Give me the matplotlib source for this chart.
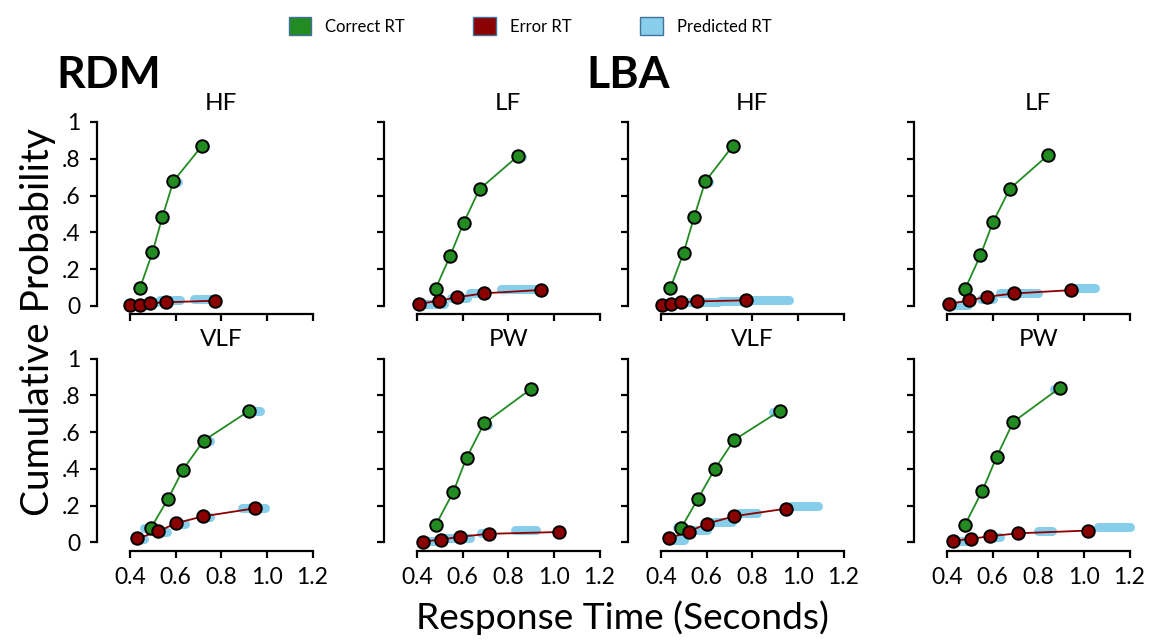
import matplotlib
matplotlib.use('Agg')
import matplotlib.pyplot as plt
from matplotlib.patches import Patch

plt.rcParams['font.family'] = ['Lato', 'DejaVu Sans']

# ============================================================
# Data (quantile RTs in seconds, cumulative probability)
# predicted clouds: (rt_lo, rt_hi, p)
# ============================================================

# RDM HF
rdm_hf_cor_rt = [0.444, 0.498, 0.542, 0.590, 0.714]
rdm_hf_cor_p = [0.099, 0.291, 0.485, 0.678, 0.868]
rdm_hf_err_rt = [0.400, 0.444, 0.486, 0.556, 0.773]
rdm_hf_err_p = [0.003, 0.006, 0.015, 0.020, 0.029]
rdm_hf_pred = [(0.71, 0.73, 0.865), (0.59, 0.61, 0.672), (0.54, 0.55, 0.482),
               (0.50, 0.51, 0.290), (0.41, 0.43, 0.010), (0.49, 0.52, 0.020),
               (0.53, 0.62, 0.032), (0.68, 0.76, 0.040)]

# RDM LF
rdm_lf_cor_rt = [0.481, 0.545, 0.604, 0.674, 0.844]
rdm_lf_cor_p = [0.093, 0.272, 0.452, 0.635, 0.817]
rdm_lf_err_rt = [0.407, 0.497, 0.573, 0.694, 0.942]
rdm_lf_err_p = [0.011, 0.029, 0.047, 0.069, 0.087]
rdm_lf_pred = [(0.84, 0.86, 0.812), (0.67, 0.69, 0.630), (0.47, 0.48, 0.095),
               (0.42, 0.52, 0.012), (0.55, 0.62, 0.045), (0.63, 0.70, 0.070),
               (0.77, 0.92, 0.092)]

# LBA HF
lba_hf_cor_rt = [0.441, 0.499, 0.545, 0.594, 0.715]
lba_hf_cor_p = [0.098, 0.290, 0.484, 0.677, 0.871]
lba_hf_err_rt = [0.403, 0.444, 0.488, 0.559, 0.772]
lba_hf_err_p = [0.005, 0.012, 0.020, 0.025, 0.031]
lba_hf_pred = [(0.71, 0.72, 0.868), (0.59, 0.61, 0.672), (0.50, 0.65, 0.020),
               (0.66, 0.76, 0.028), (0.78, 0.96, 0.035)]

# LBA LF
lba_lf_cor_rt = [0.479, 0.546, 0.601, 0.675, 0.841]
lba_lf_cor_p = [0.092, 0.275, 0.454, 0.637, 0.818]
lba_lf_err_rt = [0.409, 0.498, 0.574, 0.693, 0.942]
lba_lf_err_p = [0.011, 0.031, 0.050, 0.068, 0.086]
lba_lf_pred = [(0.83, 0.85, 0.808), (0.67, 0.68, 0.628), (0.47, 0.48, 0.095),
               (0.43, 0.49, 0.008), (0.55, 0.60, 0.040), (0.63, 0.80, 0.068),
               (0.94, 1.05, 0.097), (1.09, 1.09, 0.097)]

# RDM VLF
rdm_vlf_cor_rt = [0.491, 0.567, 0.632, 0.723, 0.923]
rdm_vlf_cor_p = [0.078, 0.238, 0.396, 0.554, 0.716]
rdm_vlf_err_rt = [0.432, 0.523, 0.602, 0.720, 0.948]
rdm_vlf_err_p = [0.022, 0.060, 0.105, 0.142, 0.186]
rdm_vlf_pred = [(0.46, 0.48, 0.078), (0.44, 0.46, 0.018), (0.53, 0.56, 0.055),
                (0.61, 0.64, 0.100), (0.71, 0.75, 0.140), (0.89, 0.99, 0.186),
                (0.91, 0.97, 0.714), (0.72, 0.75, 0.553)]

# RDM PW
rdm_pw_cor_rt = [0.481, 0.559, 0.617, 0.694, 0.899]
rdm_pw_cor_p = [0.093, 0.275, 0.461, 0.647, 0.834]
rdm_pw_err_rt = [0.426, 0.506, 0.587, 0.714, 1.022]
rdm_pw_err_p = [0.005, 0.016, 0.031, 0.047, 0.057]
rdm_pw_pred = [(0.42, 0.48, 0.008), (0.51, 0.63, 0.027), (0.68, 0.73, 0.052),
               (0.70, 0.71, 0.640), (0.89, 0.90, 0.834), (0.83, 0.92, 0.070)]

# LBA VLF
lba_vlf_cor_rt = [0.489, 0.562, 0.635, 0.721, 0.923]
lba_vlf_cor_p = [0.081, 0.238, 0.398, 0.558, 0.717]
lba_vlf_err_rt = [0.434, 0.521, 0.601, 0.721, 0.949]
lba_vlf_err_p = [0.022, 0.059, 0.102, 0.143, 0.184]
lba_vlf_pred = [(0.44, 0.50, 0.015), (0.47, 0.49, 0.085), (0.55, 0.60, 0.068),
                (0.63, 0.71, 0.110), (0.74, 0.82, 0.158), (0.97, 1.09, 0.200),
                (1.10, 1.10, 0.198), (0.89, 0.92, 0.708), (0.71, 0.72, 0.545),
                (0.63, 0.63, 0.390)]

# LBA PW
lba_pw_cor_rt = [0.478, 0.555, 0.618, 0.690, 0.894]
lba_pw_cor_p = [0.095, 0.282, 0.467, 0.655, 0.840]
lba_pw_err_rt = [0.428, 0.505, 0.587, 0.712, 1.019]
lba_pw_err_p = [0.009, 0.020, 0.034, 0.050, 0.065]
lba_pw_pred = [(0.43, 0.49, 0.008), (0.52, 0.52, 0.010), (0.61, 0.63, 0.030),
               (0.80, 0.86, 0.065), (1.06, 1.20, 0.085), (0.87, 0.89, 0.835),
               (0.685, 0.685, 0.645)]

panel_titles = ['HF', 'LF', 'HF', 'LF', 'VLF', 'PW', 'VLF', 'PW']
panels = [
    (rdm_hf_cor_rt, rdm_hf_cor_p, rdm_hf_err_rt, rdm_hf_err_p, rdm_hf_pred),
    (rdm_lf_cor_rt, rdm_lf_cor_p, rdm_lf_err_rt, rdm_lf_err_p, rdm_lf_pred),
    (lba_hf_cor_rt, lba_hf_cor_p, lba_hf_err_rt, lba_hf_err_p, lba_hf_pred),
    (lba_lf_cor_rt, lba_lf_cor_p, lba_lf_err_rt, lba_lf_err_p, lba_lf_pred),
    (rdm_vlf_cor_rt, rdm_vlf_cor_p, rdm_vlf_err_rt, rdm_vlf_err_p, rdm_vlf_pred),
    (rdm_pw_cor_rt, rdm_pw_cor_p, rdm_pw_err_rt, rdm_pw_err_p, rdm_pw_pred),
    (lba_vlf_cor_rt, lba_vlf_cor_p, lba_vlf_err_rt, lba_vlf_err_p, lba_vlf_pred),
    (lba_pw_cor_rt, lba_pw_cor_p, lba_pw_err_rt, lba_pw_err_p, lba_pw_pred),
]

x_ticks = [0.4, 0.6, 0.8, 1.0, 1.2]
x_tick_labels = ['0.4', '0.6', '0.8', '1.0', '1.2']
y_ticks = [0, 0.2, 0.4, 0.6, 0.8, 1.0]
y_tick_labels = ['0', '.2', '.4', '.6', '.8', '1']

GREEN = '#228B22'
RED = '#8B0000'
BLUE = '#87CEEB'

# ============================================================
# Layout
# ============================================================
W, H = 1149, 640
col_left_px = [97, 384, 628, 914]
row_bottom_px = [314, 550.5]
ax_w = 215.5 / W
ax_h = 192 / H


def draw_panel(ax, cor_rt, cor_p, err_rt, err_p, pred, title, show_x, show_y):
    for lo, hi, p in pred:
        ax.plot([lo, hi], [p, p], color=BLUE, lw=6.5, solid_capstyle='round',
                zorder=1, clip_on=False)
    ax.plot(cor_rt, cor_p, color=GREEN, lw=1.3, zorder=2, clip_on=False)
    ax.plot(err_rt, err_p, color=RED, lw=1.3, zorder=2, clip_on=False)
    ax.plot(cor_rt, cor_p, 'o', ms=9, mfc=GREEN, mec='black', mew=1.4,
            zorder=3, clip_on=False)
    ax.plot(err_rt, err_p, 'o', ms=9, mfc=RED, mec='black', mew=1.4,
            zorder=3, clip_on=False)

    ax.set_xlim(0.255, 1.2)
    ax.set_ylim(-0.0435, 1.0)
    for s in ['top', 'right']:
        ax.spines[s].set_visible(False)
    ax.spines['left'].set_bounds(0, 1)
    ax.spines['bottom'].set_bounds(0.4, 1.2)
    ax.spines['left'].set_linewidth(1.6)
    ax.spines['bottom'].set_linewidth(1.6)
    ax.set_xticks(x_ticks)
    ax.set_yticks(y_ticks)
    ax.tick_params(direction='out', length=5, width=1.6, labelsize=16.5, pad=7)
    ax.set_xticklabels(x_tick_labels if show_x else [])
    ax.set_yticklabels(y_tick_labels if show_y else [])
    ax.patch.set_alpha(0)
    ax.text(0.8, 1.0625, title, transform=ax.get_xaxis_transform(),
            ha='center', va='baseline', fontsize=17.5)


def main():
    fig = plt.figure(figsize=(W / 100, H / 100), dpi=100)

    for i, (data, title) in enumerate(zip(panels, panel_titles)):
        row, col = divmod(i, 4)
        ax = fig.add_axes([col_left_px[col] / W, 1 - row_bottom_px[row] / H, ax_w, ax_h])
        draw_panel(ax, *data, title, show_x=(row == 1), show_y=(col == 0))

    fig.text(56 / W, 1 - 75 / H, 'RDM', fontsize=32, fontweight='bold',
             ha='left', va='center')
    fig.text(586 / W, 1 - 75 / H, 'LBA', fontsize=32, fontweight='bold',
             ha='left', va='center')
    fig.text(38 / W, 1 - 322 / H, 'Cumulative Probability', fontsize=28,
             rotation=90, ha='center', va='center')
    fig.text(622 / W, 1 - 618 / H, 'Response Time (Seconds)', fontsize=26.7,
             ha='center', va='center')

    handles = [
        Patch(facecolor=GREEN, edgecolor='#41719C', lw=1, label='Correct RT'),
        Patch(facecolor=RED, edgecolor='#41719C', lw=1, label='Error RT'),
        Patch(facecolor=BLUE, edgecolor='#41719C', lw=1, label='Predicted RT'),
    ]
    fig.legend(handles=handles, loc='center', bbox_to_anchor=(530 / W, 1 - 26 / H),
               ncol=3, frameon=False, fontsize=12, handlelength=1.35,
               handleheight=1.35, handletextpad=0.85, columnspacing=4.1)

    fig.savefig('out.png', dpi=100)
    plt.close(fig)


if __name__ == '__main__':
    main()
